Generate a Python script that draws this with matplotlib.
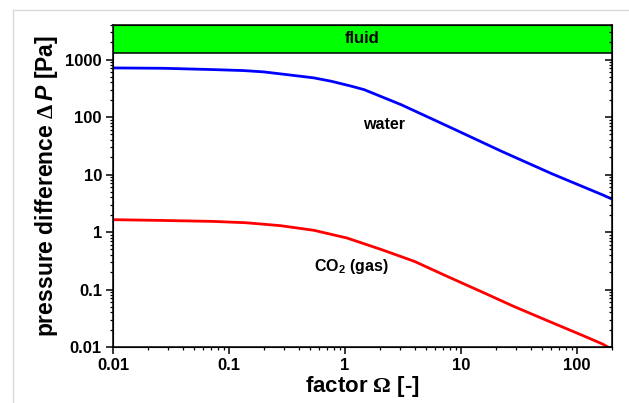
import numpy as np
import matplotlib
matplotlib.use('Agg')
import matplotlib.pyplot as plt
from matplotlib.patches import Rectangle
from matplotlib.lines import Line2D
from matplotlib.ticker import FixedLocator, FixedFormatter, LogLocator, NullFormatter

plt.rcParams['font.family'] = 'Liberation Sans'
plt.rcParams['font.weight'] = 'bold'
plt.rcParams['mathtext.fontset'] = 'custom'
plt.rcParams['mathtext.rm'] = 'Liberation Serif'
plt.rcParams['mathtext.it'] = 'Liberation Sans:bold:italic'
plt.rcParams['mathtext.sf'] = 'Liberation Sans:bold'

# Daten
omega_water = [0.01, 0.027, 0.073, 0.134, 0.199, 0.416, 0.54, 0.76, 1.13, 1.46, 3.05, 8.28, 22.4, 60.8, 165.0, 200.0]
dp_water = [716, 706, 670, 644, 611, 512, 480, 420, 345, 300, 164, 64.6, 25.3, 10.3, 4.45, 3.74]

omega_co2 = [0.01, 0.027, 0.073, 0.14, 0.278, 0.54, 1.04, 2.03, 3.97, 7.6, 14.9, 28.6, 55.9, 109.0, 165.0, 200.0]
dp_co2 = [1.64, 1.59, 1.53, 1.45, 1.29, 1.07, 0.786, 0.50, 0.308, 0.169, 0.092, 0.0506, 0.0285, 0.0162, 0.0113, 0.0091]

x_ticks = [0.01, 0.1, 1, 10, 100]
x_labels = ['0.01', '0.1', '1', '10', '100']
y_ticks = [0.01, 0.1, 1, 10, 100, 1000]
y_labels = ['0.01', '0.1', '1', '10', '100', '1000']

fig = plt.figure(figsize=(6.29, 4.03), dpi=100)
ax = fig.add_axes([0.1797, 0.139, 0.7933, 0.799])

ax.plot(omega_water, dp_water, color='#0000ff', lw=2)
ax.plot(omega_co2, dp_co2, color='#ff0000', lw=2)

ax.set_xscale('log')
ax.set_yscale('log')
ax.set_xlim(0.01, 200)
ax.set_ylim(0.01, 4000)

ax.xaxis.set_major_locator(FixedLocator(x_ticks))
ax.xaxis.set_major_formatter(FixedFormatter(x_labels))
ax.yaxis.set_major_locator(FixedLocator(y_ticks))
ax.yaxis.set_major_formatter(FixedFormatter(y_labels))
ax.xaxis.set_minor_locator(LogLocator(base=10, subs=np.arange(2, 10)))
ax.yaxis.set_minor_locator(LogLocator(base=10, subs=np.arange(2, 10)))
ax.xaxis.set_minor_formatter(NullFormatter())
ax.yaxis.set_minor_formatter(NullFormatter())

ax.tick_params(axis='both', which='major', labelsize=12, length=5, width=1.1, direction='out', pad=3)
ax.tick_params(axis='both', which='minor', length=2.5, width=0.9, direction='out')
for sp in ax.spines.values():
    sp.set_linewidth(1.1)

# rechte Achse: Ticks nach innen
ax2 = ax.twinx()
ax2.set_yscale('log')
ax2.set_ylim(ax.get_ylim())
ax2.yaxis.set_major_locator(FixedLocator(y_ticks))
ax2.yaxis.set_minor_locator(LogLocator(base=10, subs=np.arange(2, 10)))
ax2.yaxis.set_major_formatter(NullFormatter())
ax2.yaxis.set_minor_formatter(NullFormatter())
ax2.tick_params(axis='y', which='major', direction='in', length=5, width=1.1)
ax2.tick_params(axis='y', which='minor', direction='in', length=2.5, width=0.9)

# gruener Balken "fluid"
ax.add_patch(Rectangle((0, 1320), 1, 4000 - 1320, transform=ax.get_yaxis_transform(),
                       facecolor='#00ff00', edgecolor='black', lw=1.1, zorder=5))
ax.text(0.5, 2300, 'fluid', transform=ax.get_yaxis_transform(), ha='center', va='center',
        fontsize=12, fontweight='bold', zorder=6)

ax.text(2.18, 74, 'water', ha='center', va='center', fontsize=11.5, fontweight='bold')
ax.text(1.13, 0.25, r'CO$_\mathsf{2}$ (gas)', ha='center', va='center', fontsize=11.5, fontweight='bold')

ax.set_xlabel(r'factor $\Omega$ [-]', fontsize=16, fontweight='bold', labelpad=1)
ax.set_ylabel(r'pressure difference $\Delta\,P$ [Pa]', fontsize=16.5, fontweight='bold', labelpad=4)

# grauer Rahmen
fig.add_artist(Line2D([13 / 629, 13 / 629], [0, 1 - 10 / 403], color='#d9d9d9', lw=1))
fig.add_artist(Line2D([13 / 629, 1], [1 - 10 / 403, 1 - 10 / 403], color='#d9d9d9', lw=1))

fig.savefig('out.png', dpi=100)
